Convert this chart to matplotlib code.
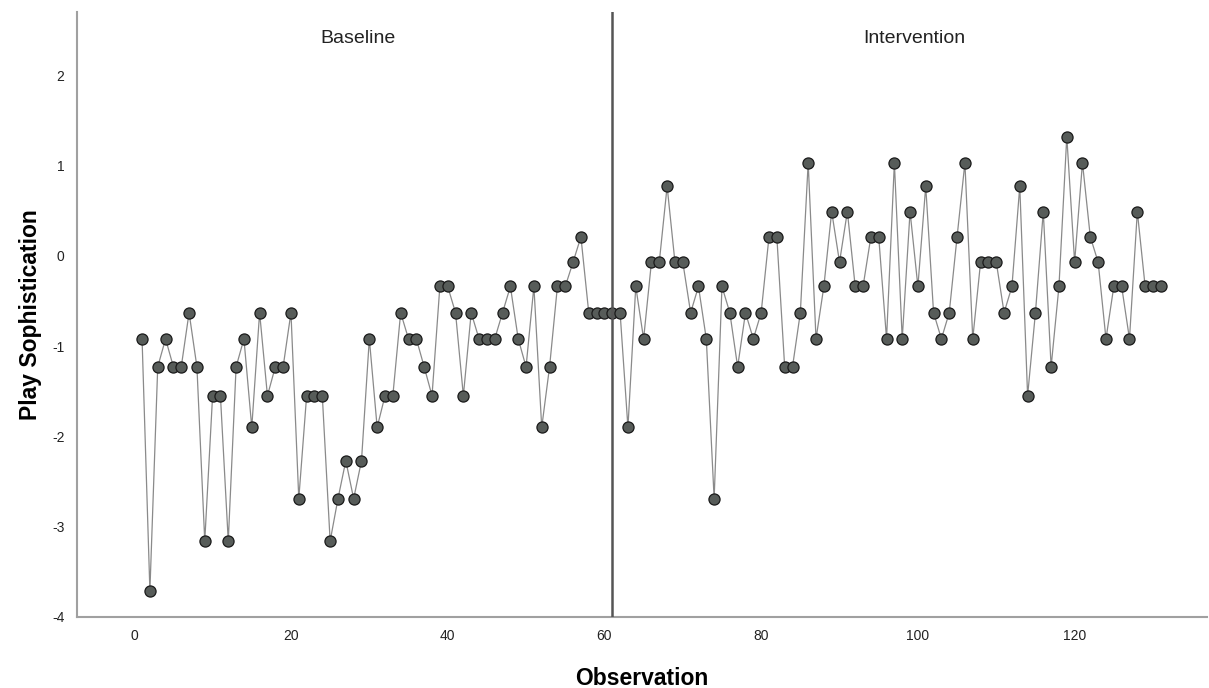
import matplotlib
matplotlib.use("Agg")
import matplotlib.pyplot as plt

plt.rcParams['font.family'] = ['Liberation Sans', 'DejaVu Sans']
plt.rcParams['axes.unicode_minus'] = False

# ---- data ----
observation = list(range(1, 132))
play_soph = [
    # baseline 1..62
    -0.92, -3.71, -1.23, -0.92, -1.23, -1.23, -0.63, -1.23, -3.16, -1.55,
    -1.55, -3.16, -1.23, -0.92, -1.90, -0.63, -1.55, -1.23, -1.23, -0.63,
    -2.69, -1.55, -1.55, -1.55, -3.16, -2.69, -2.27, -2.69, -2.27, -0.92,
    -1.90, -1.55, -1.55, -0.63, -0.92, -0.92, -1.23, -1.55, -0.34, -0.34,
    -0.63, -1.55, -0.63, -0.92, -0.92, -0.92, -0.63, -0.34, -0.92, -1.23,
    -0.34, -1.90, -1.23, -0.34, -0.34, -0.07, 0.21, -0.63, -0.63, -0.63,
    -0.63, -0.63,
    # 63..131
    -1.90, -0.34, -0.92, -0.07, -0.07, 0.77, -0.07, -0.07, -0.63, -0.34,
    -0.92, -2.69, -0.34, -0.63, -1.23, -0.63, -0.92, -0.63, 0.21, 0.21,
    -1.23, -1.23, -0.63, 1.03, -0.92, -0.34, 0.49, -0.07, 0.49, -0.34,
    -0.34, 0.21, 0.21, -0.92, 1.03, -0.92, 0.49, -0.34, 0.77, -0.63,
    -0.92, -0.63, 0.21, 1.03, -0.92, -0.07, -0.07, -0.07, -0.63, -0.34,
    0.77, -1.55, -0.63, 0.49, -1.23, -0.34, 1.32, -0.07, 1.03, 0.21,
    -0.07, -0.92, -0.34, -0.34, -0.92, 0.49, -0.34, -0.34, -0.34,
]
phase_change = 61
phase_names = ["Baseline", "Intervention"]
phase_label_x = [28.5, 99.6]
x_ticks = [0, 20, 40, 60, 80, 100, 120]
y_ticks = [-4, -3, -2, -1, 0, 1, 2]

fig = plt.figure(figsize=(12.09, 6.88), dpi=100, facecolor='white')
ax = fig.add_axes([0.0637, 0.1032, 0.9347, 0.8794])

ax.plot(observation, play_soph, color='#8a8a8a', linewidth=0.9, zorder=2)
ax.plot(observation, play_soph, linestyle='none', marker='o', markersize=8,
        markerfacecolor='#575c59', markeredgecolor='#1a1a1a', markeredgewidth=0.9, zorder=3)

ax.axvline(phase_change, color='#555555', linewidth=1.8, zorder=4)
for name, px in zip(phase_names, phase_label_x):
    ax.text(px, 2.41, name, ha='center', va='center', fontsize=14, color='#222222')

ax.set_xlim(-7.3, 136.9)
ax.set_ylim(-4, 2.70)
ax.set_xticks(x_ticks)
ax.set_yticks(y_ticks)
ax.tick_params(length=0, labelsize=10, colors='#222222')
ax.tick_params(axis='x', pad=9)
ax.tick_params(axis='y', pad=9)

for side in ['top', 'right']:
    ax.spines[side].set_visible(False)
for side in ['left', 'bottom']:
    ax.spines[side].set_color('#a0a0a0')
    ax.spines[side].set_linewidth(1.5)

ax.set_xlabel('Observation', fontsize=16.5, fontweight='bold', labelpad=17)
ax.set_ylabel('Play Sophistication', fontsize=16.5, fontweight='bold', labelpad=7)

fig.savefig('out.png', dpi=100, facecolor='white')
